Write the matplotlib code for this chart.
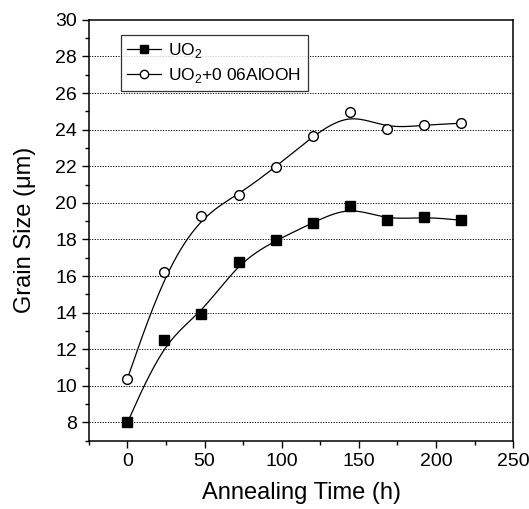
import numpy as np
import matplotlib
matplotlib.use("Agg")
import matplotlib.pyplot as plt
from matplotlib.ticker import MultipleLocator

plt.rcParams['font.family'] = ['Liberation Sans', 'DejaVu Sans']
plt.rcParams['mathtext.fontset'] = 'custom'
plt.rcParams['mathtext.rm'] = 'Liberation Sans'

# ==============================
# DATA
# ==============================

time_h = [0, 24, 48, 72, 96, 120, 144, 168, 192, 216]
uo2 = [8.0, 12.5, 13.95, 16.75, 17.95, 18.9, 19.85, 19.05, 19.25, 19.05]
uo2_alooh = [10.4, 16.2, 19.3, 20.45, 21.95, 23.65, 24.95, 24.05, 24.25, 24.35]


def bspline(x, y, n=60):
    # clamped cubic B-spline with the data as control points (smooth line only)
    px = np.r_[[x[0]] * 2, x, [x[-1]] * 2].astype(float)
    py = np.r_[[y[0]] * 2, y, [y[-1]] * 2].astype(float)
    t = np.linspace(0, 1, n)
    b0 = (1 - t) ** 3 / 6
    b1 = (3 * t ** 3 - 6 * t ** 2 + 4) / 6
    b2 = (-3 * t ** 3 + 3 * t ** 2 + 3 * t + 1) / 6
    b3 = t ** 3 / 6
    xs, ys = [], []
    for i in range(len(px) - 3):
        xs.append(b0 * px[i] + b1 * px[i + 1] + b2 * px[i + 2] + b3 * px[i + 3])
        ys.append(b0 * py[i] + b1 * py[i + 1] + b2 * py[i + 2] + b3 * py[i + 3])
    return np.concatenate(xs), np.concatenate(ys)


# ==============================
# PLOT
# ==============================

fig = plt.figure(figsize=(5.29, 5.09), dpi=100)
ax = fig.add_axes([0.168, 0.134, 0.802, 0.827])

for yv in range(8, 30, 2):
    ax.axhline(yv, color='black', lw=0.7, ls=(0, (1.2, 1.5)), zorder=0)

xs, ys = bspline(time_h, uo2)
ax.plot(xs, ys, color='black', lw=0.9)
xs, ys = bspline(time_h, uo2_alooh)
ax.plot(xs, ys, color='black', lw=0.9)

ax.plot(time_h, uo2, ls='none', marker='s', ms=7, mfc='black', mec='black')
ax.plot(time_h, uo2_alooh, ls='none', marker='o', ms=7, mfc='white', mec='black', mew=1)

# legend handles
ax.plot([], [], color='black', lw=0.9, marker='s', ms=6, mfc='black', label='UO$_2$')
ax.plot([], [], color='black', lw=0.9, marker='o', ms=6, mfc='white', label='UO$_2$+0 06AlOOH')
leg = ax.legend(loc='upper left', bbox_to_anchor=(0.075, 0.965), fontsize=12.5,
                frameon=True, fancybox=False, edgecolor='black', handlelength=2.0,
                handletextpad=0.4, borderpad=0.35, labelspacing=0.35,
                borderaxespad=0)
leg.get_frame().set_linewidth(0.9)

ax.set_xlim(-25, 250)
ax.set_ylim(7, 30)
ax.xaxis.set_major_locator(MultipleLocator(50))
ax.xaxis.set_minor_locator(MultipleLocator(25))
ax.yaxis.set_major_locator(MultipleLocator(2))
ax.yaxis.set_minor_locator(MultipleLocator(1))
ax.tick_params(which='major', direction='out', length=5, width=1, labelsize=14)
ax.tick_params(which='minor', direction='out', length=3, width=1)

for s in ax.spines.values():
    s.set_linewidth(1.1)

ax.set_xlabel('Annealing Time (h)', fontsize=17, labelpad=9)
ax.set_ylabel('Grain Size (\u03bcm)', fontsize=17, labelpad=14)

plt.savefig('out.png', dpi=100)
plt.close()
